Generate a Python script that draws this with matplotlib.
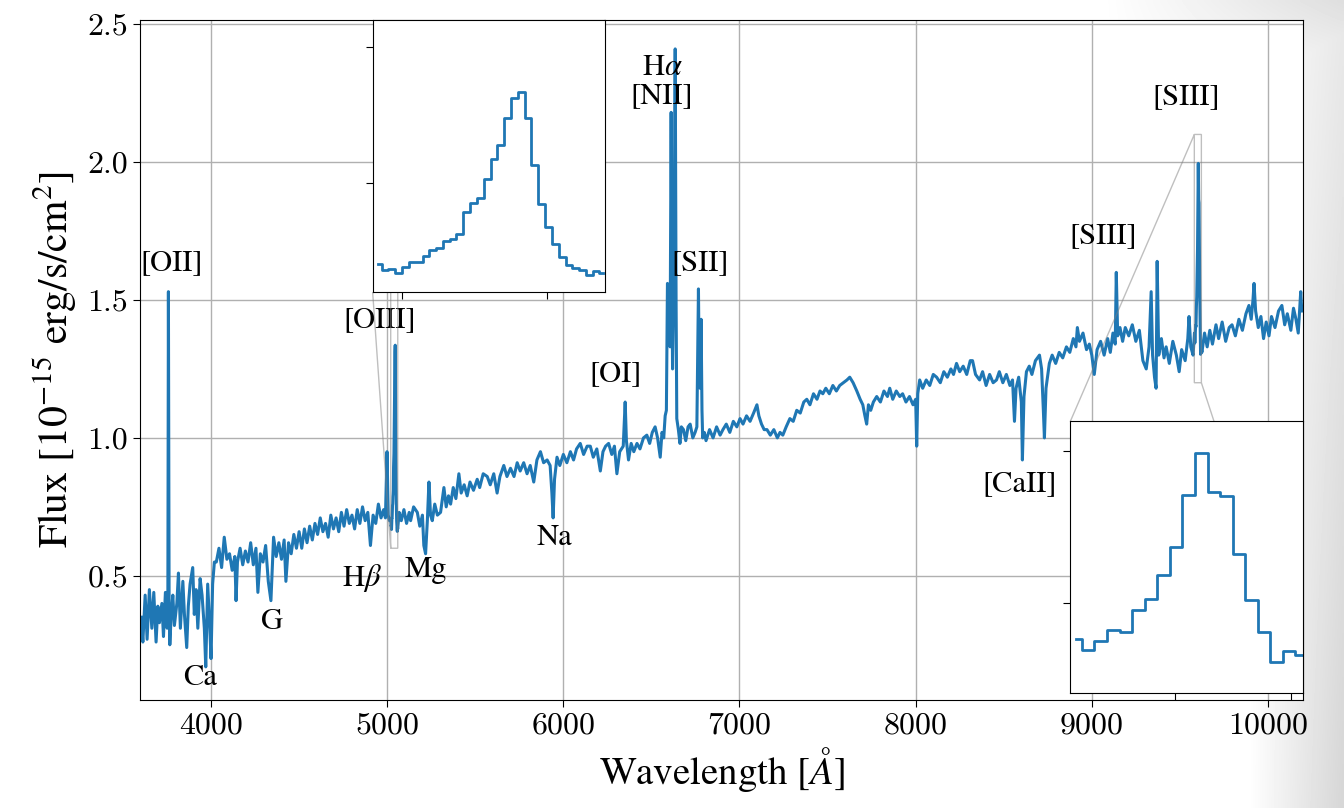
import numpy as np
import matplotlib
matplotlib.use('Agg')
import matplotlib.pyplot as plt

plt.rcParams['font.family'] = ['STIXGeneral', 'DejaVu Serif']
plt.rcParams['mathtext.fontset'] = 'stix'

# spectrum, (wavelength [A], flux) per stretch
blue = [(3603, 0.35), (3613, 0.26), (3626, 0.43), (3637, 0.27), (3650, 0.45),
        (3664, 0.31), (3675, 0.44), (3688, 0.26), (3698, 0.39), (3707, 0.33),
        (3721, 0.40), (3730, 0.28), (3741, 0.44), (3751, 0.31), (3755, 0.45),
        (3758, 1.53), (3762, 0.40), (3766, 0.25), (3774, 0.36), (3783, 0.43),
        (3792, 0.32), (3806, 0.40), (3815, 0.51), (3826, 0.31), (3840, 0.48),
        (3849, 0.36), (3862, 0.24), (3871, 0.39), (3881, 0.47), (3896, 0.53),
        (3905, 0.36), (3915, 0.45), (3925, 0.31), (3938, 0.49), (3949, 0.43),
        (3962, 0.31), (3970, 0.17), (3981, 0.47), (3993, 0.31), (4000, 0.20),
        (4009, 0.47), (4019, 0.55)]

mid = [(4030, 0.55), (4045, 0.60), (4060, 0.53), (4075, 0.64), (4090, 0.56),
       (4105, 0.58), (4120, 0.52), (4135, 0.57), (4142, 0.41), (4150, 0.55),
       (4165, 0.60), (4180, 0.54), (4195, 0.59), (4210, 0.55), (4225, 0.62),
       (4240, 0.54), (4255, 0.60), (4266, 0.44), (4280, 0.58), (4295, 0.55),
       (4310, 0.61), (4325, 0.48), (4340, 0.41), (4355, 0.64), (4370, 0.57),
       (4385, 0.62), (4400, 0.56), (4415, 0.63), (4425, 0.48), (4440, 0.62),
       (4455, 0.58), (4470, 0.65), (4485, 0.60), (4500, 0.66), (4515, 0.60),
       (4530, 0.67), (4545, 0.62), (4560, 0.68), (4575, 0.63), (4590, 0.69),
       (4605, 0.65), (4620, 0.71), (4635, 0.66), (4650, 0.69), (4665, 0.64),
       (4680, 0.72), (4695, 0.67), (4710, 0.71), (4725, 0.66), (4740, 0.73),
       (4755, 0.68), (4770, 0.74), (4785, 0.69), (4800, 0.72), (4815, 0.67),
       (4830, 0.74), (4845, 0.69), (4860, 0.75), (4875, 0.70), (4890, 0.73),
       (4905, 0.61), (4920, 0.72), (4935, 0.69), (4950, 0.76), (4965, 0.71),
       (4980, 0.74), (4990, 0.71), (4999, 0.95), (5006, 0.72), (5013, 0.70)]

# [OIII] 5007 in native pixels (top-left inset)
oiii = [(5021.0, 0.701), (5022.1, 0.680), (5023.3, 0.683), (5024.5, 0.668),
        (5025.6, 0.690), (5026.8, 0.710), (5028.0, 0.710), (5029.2, 0.733),
        (5030.3, 0.756), (5031.5, 0.761), (5032.7, 0.787), (5033.8, 0.796),
        (5035.0, 0.812), (5036.2, 0.894), (5037.4, 0.928), (5038.5, 0.944),
        (5039.7, 1.017), (5040.9, 1.088), (5042.0, 1.140), (5043.2, 1.238),
        (5044.4, 1.312), (5045.6, 1.336), (5046.7, 1.238), (5047.9, 1.066),
        (5049.1, 0.923), (5050.2, 0.839), (5051.4, 0.778), (5052.6, 0.729),
        (5053.8, 0.698), (5054.9, 0.688), (5056.1, 0.680), (5057.3, 0.661),
        (5058.4, 0.677), (5059.6, 0.670)]

green = [(5068, 0.73), (5080, 0.70), (5095, 0.74), (5110, 0.69), (5125, 0.73),
         (5133, 0.70), (5150, 0.75), (5171, 0.73), (5185, 0.68), (5200, 0.72),
         (5208, 0.61), (5218, 0.58), (5228, 0.70), (5237, 0.84), (5246, 0.72),
         (5256, 0.70), (5270, 0.76), (5285, 0.72), (5303, 0.73), (5322, 0.82),
         (5335, 0.75), (5348, 0.79), (5360, 0.76), (5375, 0.82), (5390, 0.78),
         (5407, 0.87), (5420, 0.80), (5437, 0.83), (5454, 0.79), (5470, 0.84),
         (5490, 0.81), (5511, 0.85), (5525, 0.82), (5545, 0.87), (5568, 0.86),
         (5585, 0.83), (5605, 0.87), (5624, 0.80), (5640, 0.86), (5662, 0.90),
         (5680, 0.86), (5700, 0.89), (5720, 0.86), (5738, 0.91), (5755, 0.88),
         (5775, 0.91), (5794, 0.87), (5812, 0.90), (5832, 0.84), (5850, 0.92),
         (5870, 0.95), (5888, 0.91), (5908, 0.92), (5925, 0.90), (5935, 0.80),
         (5942, 0.71), (5950, 0.85), (5964, 0.93), (5980, 0.90), (6000, 0.94),
         (6020, 0.91), (6040, 0.95), (6058, 0.92), (6075, 0.96), (6096, 0.98),
         (6115, 0.94), (6135, 0.97), (6153, 0.97), (6170, 0.93), (6190, 0.96),
         (6210, 0.88), (6225, 0.95), (6240, 0.97), (6257, 0.98), (6275, 0.94),
         (6290, 0.97), (6304, 0.87), (6320, 0.95), (6340, 0.97), (6351, 1.13),
         (6358, 0.99), (6370, 0.92), (6385, 0.98), (6400, 0.95), (6418, 0.98),
         (6435, 0.96), (6455, 1.00), (6474, 1.01), (6490, 0.98), (6505, 1.02),
         (6521, 1.04), (6535, 1.00), (6550, 0.93), (6560, 1.02), (6570, 1.00)]

halpha = [(6578, 1.08), (6585, 1.10), (6591, 1.56), (6598, 1.45), (6606, 1.33),
          (6612, 2.18), (6616, 1.60), (6620, 1.25), (6628, 1.60), (6635, 2.41),
          (6640, 1.50), (6644, 1.07), (6653, 1.03), (6662, 0.98), (6670, 1.04),
          (6682, 1.03), (6695, 0.99), (6708, 1.04), (6720, 1.05), (6735, 1.00),
          (6748, 1.02), (6758, 1.04), (6767, 1.54), (6772, 1.20), (6776, 1.18),
          (6782, 1.43), (6787, 1.10), (6791, 1.00), (6800, 1.02)]

red = [(6810, 0.99), (6830, 1.03), (6850, 1.00), (6870, 1.04), (6890, 1.01),
       (6906, 1.03), (6925, 1.05), (6945, 1.02), (6965, 1.06), (6985, 1.04),
       (7003, 1.07), (7020, 1.05), (7040, 1.08), (7060, 1.06), (7080, 1.09),
       (7099, 1.12), (7110, 1.08), (7125, 1.05), (7140, 1.03), (7156, 1.03),
       (7175, 1.01), (7195, 1.03), (7215, 1.00), (7230, 1.02), (7246, 1.01),
       (7265, 1.04), (7286, 1.07), (7305, 1.06), (7325, 1.10), (7345, 1.09),
       (7365, 1.13), (7382, 1.14), (7400, 1.12), (7420, 1.16), (7440, 1.14),
       (7457, 1.17), (7473, 1.16), (7490, 1.18), (7510, 1.16), (7530, 1.19),
       (7550, 1.17), (7569, 1.19), (7590, 1.20), (7610, 1.21), (7626, 1.22),
       (7645, 1.20), (7666, 1.17), (7685, 1.14), (7700, 1.12), (7712, 1.08),
       (7722, 1.05), (7732, 1.12), (7745, 1.10), (7760, 1.13), (7779, 1.15),
       (7800, 1.13), (7820, 1.17), (7840, 1.15), (7853, 1.18), (7870, 1.14),
       (7890, 1.17), (7910, 1.15), (7926, 1.16), (7945, 1.13), (7965, 1.15),
       (7985, 1.12), (8000, 1.14), (8006, 0.97), (8012, 1.16), (8023, 1.21),
       (8040, 1.18), (8060, 1.21), (8080, 1.19), (8100, 1.23), (8119, 1.22),
       (8140, 1.20), (8160, 1.24), (8180, 1.22), (8200, 1.25), (8215, 1.23),
       (8232, 1.27), (8250, 1.24), (8270, 1.26), (8290, 1.23), (8310, 1.28),
       (8323, 1.28), (8340, 1.23), (8363, 1.21), (8380, 1.24), (8400, 1.19),
       (8420, 1.23), (8440, 1.20), (8459, 1.21), (8475, 1.24), (8495, 1.20),
       (8515, 1.23), (8535, 1.19), (8550, 1.21), (8561, 1.06), (8570, 1.18),
       (8585, 1.22), (8600, 1.13), (8606, 0.92), (8615, 1.15), (8629, 1.24),
       (8645, 1.26), (8660, 1.23), (8680, 1.28), (8703, 1.30), (8715, 1.25),
       (8725, 1.10), (8731, 1.00), (8740, 1.18), (8759, 1.27), (8775, 1.30),
       (8795, 1.27), (8815, 1.31), (8835, 1.29), (8856, 1.33), (8875, 1.31),
       (8895, 1.36), (8910, 1.33), (8918, 1.40), (8930, 1.35), (8950, 1.38),
       (8970, 1.32), (8986, 1.34), (9000, 1.30), (9014, 1.23), (9030, 1.32),
       (9050, 1.35), (9070, 1.30), (9090, 1.36), (9105, 1.31), (9120, 1.38),
       (9133, 1.34), (9139, 1.60), (9147, 1.37), (9160, 1.40), (9175, 1.35),
       (9190, 1.40), (9210, 1.37), (9230, 1.41), (9250, 1.35), (9270, 1.39),
       (9290, 1.28), (9309, 1.25), (9325, 1.33), (9337, 1.53), (9345, 1.30),
       (9356, 1.22), (9365, 1.18), (9371, 1.64), (9380, 1.30), (9395, 1.36),
       (9410, 1.29), (9422, 1.33), (9440, 1.27), (9460, 1.35), (9480, 1.30),
       (9496, 1.24), (9510, 1.32), (9530, 1.28), (9545, 1.36), (9552, 1.44),
       (9562, 1.33), (9575, 1.30)]

# [SIII] 9531 in native pixels (bottom-right inset)
siii = [(9582.9, 1.380), (9585.0, 1.344), (9587.2, 1.372), (9589.4, 1.408),
        (9591.5, 1.403), (9593.7, 1.474), (9595.8, 1.511), (9598.0, 1.592),
        (9600.2, 1.684), (9602.3, 1.855), (9604.5, 1.995), (9606.7, 1.864),
        (9608.8, 1.852), (9611.0, 1.659), (9613.2, 1.509), (9615.3, 1.404),
        (9617.5, 1.303), (9619.6, 1.339), (9621.8, 1.325)]

ir = [(9625, 1.31), (9640, 1.38), (9655, 1.33), (9670, 1.39), (9685, 1.34),
      (9705, 1.41), (9720, 1.36), (9740, 1.42), (9760, 1.35), (9780, 1.40),
      (9796, 1.41), (9815, 1.37), (9835, 1.43), (9855, 1.39), (9875, 1.45),
      (9892, 1.48), (9905, 1.43), (9915, 1.50), (9921, 1.56), (9930, 1.46),
      (9945, 1.40), (9960, 1.44), (9975, 1.36), (9990, 1.42), (10006, 1.37),
      (10020, 1.44), (10040, 1.40), (10060, 1.46), (10079, 1.48), (10095, 1.41),
      (10110, 1.45), (10130, 1.39), (10145, 1.47), (10159, 1.43), (10172, 1.38),
      (10186, 1.53), (10192, 1.46)]

line_names = ['[OII]', 'Ca', 'G', r'H$\beta$', '[OIII]', 'Mg', 'Na', '[OI]',
              'H$\\alpha$\n[NII]', '[SII]', '[CaII]', '[SIII]', '[SIII]']
label_wl = [3779, 3938, 4346, 4857, 4959, 5220, 5952, 6299,
            6560, 6775, 8591, 9063, 9534]
label_flux = [1.634, 0.13, 0.333, 0.493, 1.428, 0.522, 0.638, 1.232,
              2.29, 1.634, 0.833, 1.73, 2.235]

segments = [blue, mid, oiii, green, halpha, red, siii, ir]
wave = np.concatenate([np.array(s)[:, 0] for s in segments])
flux = np.concatenate([np.array(s)[:, 1] for s in segments])

blue_c = '#1f77b4'

fig = plt.figure(figsize=(13.44, 8.08), dpi=100)

# soft page shadow towards the right edge
bg = fig.add_axes([0, 0, 1, 1], zorder=-10)
gx = np.linspace(0, 1, 400)
gy = np.linspace(0, 1, 240)
GX, GY = np.meshgrid(gx, gy)
shade = np.clip((GX - 0.93) / 0.07, 0, 1) * (0.55 + 0.45 * GY)
shade = np.maximum(shade, np.clip((GX - 0.82) / 0.18, 0, 1) * np.clip((0.14 - GY) / 0.14, 0, 1) * 0.8)
bg.imshow(1 - 0.16 * shade, cmap='gray', vmin=0, vmax=1, origin='upper',
          extent=[0, 1, 0, 1], aspect='auto', interpolation='bilinear')
bg.axis('off')

ax = fig.add_axes([0.1042, 0.1337, 0.8653, 0.8416])
ax.plot(wave, flux, color=blue_c, lw=2.2)
ax.set_xlim(3597, 10199)
ax.set_ylim(0.05, 2.515)
ax.set_xticks([4000, 5000, 6000, 7000, 8000, 9000, 10000])
ax.set_yticks([0.5, 1.0, 1.5, 2.0, 2.5])
ax.grid(color='#b0b0b0', lw=1.0)
ax.set_axisbelow(True)
ax.tick_params(labelsize=23, labelfontfamily='cmr10', length=5)
ax.set_xlabel('Wavelength [$\\mathit{\u00c5}$]', fontsize=28, labelpad=4)
ax.set_ylabel('Flux [$10^{-15}$ erg/s/cm$^2$]', fontsize=30, labelpad=6)

for name, x, y in zip(line_names, label_wl, label_flux):
    ax.text(x, y, name, ha='center', va='center', fontsize=22,
            linespacing=1.0)

# zoom on [OIII]
axins1 = ax.inset_axes([0.2, 0.6, 0.2, 0.4])
o = np.array(oiii)
axins1.plot(o[:, 0], o[:, 1], color=blue_c, lw=2.0, drawstyle='steps-mid')
axins1.set_xlim(5020, 5060)
axins1.set_ylim(0.6, 1.6)
axins1.set_xticks([5025, 5050])
axins1.set_yticks([1.0, 1.5])
axins1.tick_params(labelleft=False, labelbottom=False, length=5)
ax.indicate_inset_zoom(axins1, edgecolor='0.5')

# zoom on [SIII]
axins2 = ax.inset_axes([0.8, 0.01, 0.2, 0.4])
s = np.array(siii)
axins2.plot(s[:, 0], s[:, 1], color=blue_c, lw=2.0, drawstyle='steps-mid')
axins2.set_xlim(9582, 9622)
axins2.set_ylim(1.2, 2.1)
axins2.set_xticks([9600, 9620])
axins2.set_yticks([1.5, 2.0])
axins2.tick_params(labelleft=False, labelbottom=False, length=5)
ax.indicate_inset_zoom(axins2, edgecolor='0.5')

fig.savefig('out.png', dpi=100)
